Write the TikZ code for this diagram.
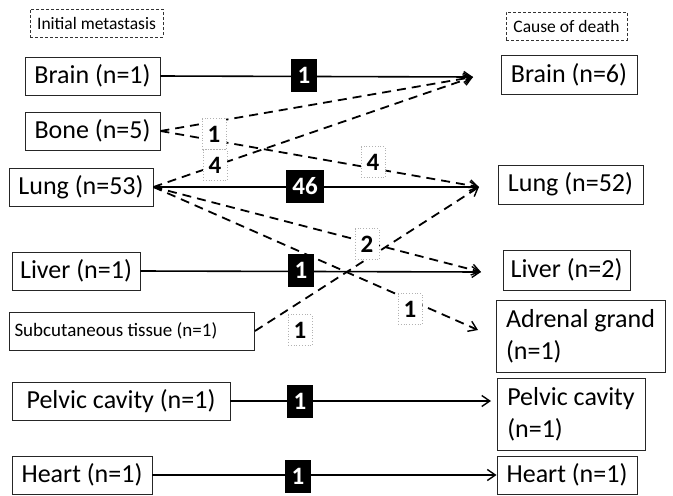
\documentclass[tikz,border=0pt]{standalone}
\usepackage{fontspec}
\setmainfont{Carlito}
\usetikzlibrary{arrows.meta}
\begin{document}
\begin{tikzpicture}[x=1pt,y=-1pt,
  box/.style={draw=black!85, line width=0.9pt, inner sep=0pt, font=\fontsize{26}{32}\selectfont},
  hdr/.style={draw=black!80, dashed, dash pattern=on 3pt off 2pt, line width=0.8pt, inner sep=0pt, font=\fontsize{17.5}{20}\selectfont},
  solidc/.style={line width=1.6pt, -{Straight Barb[length=8pt,width=11pt,line width=1.4pt]}},
  dashc/.style={line width=1.8pt, dash pattern=on 9pt off 6pt, -{Straight Barb[length=8pt,width=11pt,line width=1.4pt]}},
  blk/.style={fill=black, text=white, inner sep=0pt, inner xsep=6.5pt, minimum height=33pt, font=\fontsize{25}{25}\selectfont\bfseries},
  lite/.style={draw=black!30, dotted, line width=0.8pt, fill=white, inner sep=0pt, minimum width=24pt, minimum height=31pt, font=\fontsize{25}{25}\selectfont\bfseries},
]
\useasboundingbox (0,0) rectangle (673,496);
% headers
\node[hdr, minimum width=133pt, minimum height=28pt] (hL) at (96.5,23) {Initial metastasis};
\node[hdr, minimum width=121pt, minimum height=28pt] (hR) at (566.5,26) {Cause of death};
% left boxes
\node[box, minimum width=135pt, minimum height=38pt] (brainL) at (92.5,76) {Brain (n=1)};
\node[box, minimum width=135pt, minimum height=38pt] (boneL) at (92.5,131) {Bone (n=5)};
\node[box, minimum width=144pt, minimum height=38pt] (lungL) at (81,187) {Lung (n=53)};
\node[box, minimum width=128pt, minimum height=38pt] (liverL) at (76,271) {Liver (n=1)};
\node[box, minimum width=245pt, minimum height=38pt, text width=235pt, align=flush left, font=\fontsize{19}{23}\selectfont] (subL) at (132,331) {Subcutaneous tissue (n=1)};
\node[box, minimum width=218pt, minimum height=38pt] (pelvL) at (121,401) {Pelvic cavity (n=1)};
\node[box, minimum width=140pt, minimum height=38pt] (heartL) at (82,475) {Heart (n=1)};
% right boxes
\node[box, minimum width=136pt, minimum height=39pt] (brainR) at (569,74.5) {Brain (n=6)};
\node[box, minimum width=145pt, minimum height=39pt] (lungR) at (570.5,184.5) {Lung (n=52)};
\node[box, minimum width=127pt, minimum height=40pt] (liverR) at (566.5,270) {Liver (n=2)};
\node[box, minimum width=169pt, minimum height=72pt, align=left] (adrR) at (580.5,336) {Adrenal grand\\(n=1)};
\node[box, minimum width=148pt, minimum height=72pt, align=left] (pelvR) at (571,414) {Pelvic cavity\\(n=1)};
\node[box, minimum width=140pt, minimum height=38pt] (heartR) at (567,475) {Heart (n=1)};
% convergence points
\coordinate (cBrain) at (473,77);
\coordinate (cLung) at (479,187);
\coordinate (cLiver) at (481,272);
\coordinate (cAdr) at (478,330);
\coordinate (cPelv) at (491,401);
% connectors
\draw[solidc] (brainL.east) -- (cBrain);
\draw[dashc] (boneL.east) -- (cBrain);
\draw[dashc] (lungL.east) -- (cBrain);
\draw[dashc] (boneL.east) -- (cLung);
\draw[solidc] (lungL.east) -- (cLung);
\draw[dashc] (lungL.east) -- (cLiver);
\draw[dashc] (lungL.east) -- (cAdr);
\draw[solidc] (liverL.east) -- (cLiver);
\draw[dashc] (subL.east) -- (cLung);
\draw[solidc] (pelvL.east) -- (cPelv);
\draw[solidc] (heartL.east) -- (heartR.west);
% labels
\node[blk] (n1) at (304,75) {1};
\node[blk] (n46) at (305,186) {46};
\node[blk] (n3) at (301,270) {1};
\node[blk] (n4) at (300,401) {1};
\node[blk] (n5) at (298,476) {1};
\node[lite] (m1) at (214,134) {1};
\node[lite] (m2) at (215,165) {4};
\node[lite] (m3) at (373,162) {4};
\node[lite] (m4) at (367,244) {2};
\node[lite] (m5) at (410,309) {1};
\node[lite] (m6) at (300,330) {1};
\end{tikzpicture}
\end{document}
